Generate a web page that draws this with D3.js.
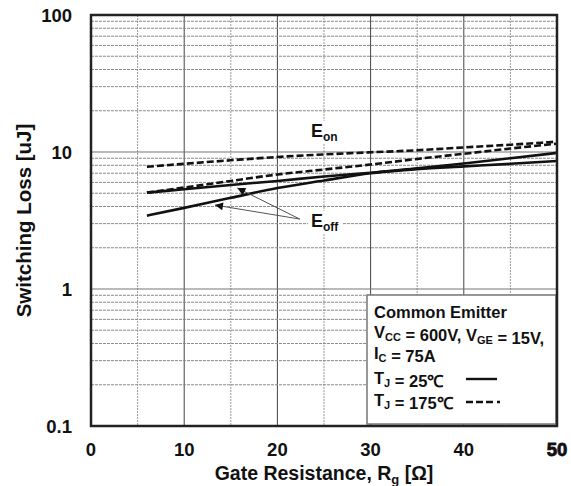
<!DOCTYPE html>
<html>
<head>
<meta charset="utf-8">
<script src="https://cdn.jsdelivr.net/npm/d3@7"></script>
<style>
  body { margin: 0; background: #fff; }
  text { font-family: "Liberation Sans", Arial, sans-serif; font-weight: bold; fill: #111; }
</style>
</head>
<body>
<svg id="chart" width="571" height="486"></svg>
<script>
// Gate resistance samples [Ω]
const rg = [6, 10, 15, 20, 25, 30, 35, 40, 45, 50];
// Switching loss [uJ], TJ = 175 °C (dashed)
const hotUpper = [7.8, 8.2, 8.7, 9.2, 9.6, 9.95, 10.3, 10.8, 11.3, 11.9];
const hotLower = [5.05, 5.5, 6.15, 6.85, 7.45, 8.1, 8.9, 9.7, 10.6, 11.5];
// Switching loss [uJ], TJ = 25 °C (solid)
const coldUpper = [5.05, 5.35, 5.75, 6.15, 6.62, 7.05, 7.5, 7.85, 8.2, 8.6];
const coldLower = [3.43, 3.91, 4.63, 5.46, 6.2, 7.0, 7.6, 8.25, 9.0, 9.85];

const xTicks = [0, 10, 20, 30, 40, 50];
const yTicks = [0.1, 1, 10, 100];
const yTickLabels = ["0.1", "1", "10", "100"];

// Annotation anchors in data units [Rg, loss]
const eonLabelAt = [23.6, 12.9];
const eoffLabelAt = [23.6, 2.84];
const eoffArrowFrom = [22.4, 3.24];
const eoffArrowTips = [[15.7, 5.46], [13.3, 4.1]];

const svg = d3.select("#chart");
const m = { left: 91, top: 15, right: 14, bottom: 60 };
const W = 571 - m.left - m.right;
const H = 486 - m.top - m.bottom;

const x = d3.scaleLinear().domain([0, 50]).range([m.left, m.left + W]);
const y = d3.scaleLog().domain([0.1, 100]).range([m.top + H, m.top]);

const defs = svg.append("defs");
defs.append("marker")
  .attr("id", "arrowHead")
  .attr("viewBox", "0 0 10 10")
  .attr("refX", 10).attr("refY", 5)
  .attr("markerWidth", 12).attr("markerHeight", 8)
  .attr("markerUnits", "userSpaceOnUse")
  .attr("orient", "auto")
  .append("path").attr("d", "M0,0 L10,5 L0,10 Z").attr("fill", "#111");

// Grid
const grid = svg.append("g");
const vLines = d3.range(5, 50, 5);
grid.selectAll("line.v").data(vLines).join("line")
  .attr("x1", d => x(d)).attr("x2", d => x(d))
  .attr("y1", m.top).attr("y2", m.top + H)
  .attr("stroke", d => d % 10 === 0 ? "#444" : "#999")
  .attr("stroke-width", 1)
  .attr("stroke-dasharray", d => d % 10 === 0 ? null : "2,1");

const hMinor = [];
[0.1, 1, 10].forEach(dec => d3.range(2, 10).forEach(k => hMinor.push(dec * k)));
grid.selectAll("line.h").data(hMinor).join("line")
  .attr("x1", m.left).attr("x2", m.left + W)
  .attr("y1", d => y(d)).attr("y2", d => y(d))
  .attr("stroke", "#8a8a8a").attr("stroke-width", 1)
  .attr("stroke-dasharray", "3,1");
grid.selectAll("line.d").data([1, 10]).join("line")
  .attr("x1", m.left).attr("x2", m.left + W)
  .attr("y1", d => y(d)).attr("y2", d => y(d))
  .attr("stroke", "#777").attr("stroke-width", 1.2);

// Curves
const line = d3.line().x(d => x(d[0])).y(d => y(d[1])).curve(d3.curveMonotoneX);
const series = [
  { vals: hotUpper, dash: "7,3" },
  { vals: hotLower, dash: "7,3" },
  { vals: coldUpper, dash: null },
  { vals: coldLower, dash: null }
];
svg.append("g").selectAll("path").data(series).join("path")
  .attr("d", s => line(rg.map((r, i) => [r, s.vals[i]])))
  .attr("fill", "none").attr("stroke", "#111").attr("stroke-width", 2.6)
  .attr("stroke-dasharray", s => s.dash);

// Eoff arrows
svg.append("g").selectAll("line").data(eoffArrowTips).join("line")
  .attr("x1", x(eoffArrowFrom[0])).attr("y1", y(eoffArrowFrom[1]))
  .attr("x2", d => x(d[0])).attr("y2", d => y(d[1]))
  .attr("stroke", "#555").attr("stroke-width", 1)
  .attr("marker-end", "url(#arrowHead)");

// Curve labels with white backing
function curveLabel(at, main, sub) {
  const g = svg.append("g");
  const t = g.append("text").attr("x", x(at[0])).attr("y", y(at[1])).attr("font-size", 18);
  t.append("tspan").text(main);
  t.append("tspan").attr("font-size", 12).attr("dy", 4).text(sub);
  const b = t.node().getBBox();
  g.insert("rect", "text").attr("x", b.x - 3).attr("y", b.y).attr("width", b.width + 6).attr("height", b.height)
    .attr("fill", "#fff");
}
curveLabel(eonLabelAt, "E", "on");
curveLabel(eoffLabelAt, "E", "off");

// Legend box
const lg = svg.append("g");
lg.append("rect").attr("x", 367).attr("y", 295).attr("width", 189).attr("height", 129)
  .attr("fill", "#fff").attr("stroke", "#777").attr("stroke-width", 1.5);
function legendText(yy, parts) {
  const t = lg.append("text").attr("x", 374).attr("y", yy).attr("font-size", 16.5);
  parts.forEach(p => {
    if (typeof p === "string") t.append("tspan").text(p);
    else {
      t.append("tspan").attr("font-size", 11).attr("dy", 3).text(p.sub);
      t.append("tspan").attr("dy", -3).text("");
    }
  });
}
legendText(318, ["Common Emitter"]);
legendText(338, ["V", { sub: "CC" }, " = 600V, V", { sub: "GE" }, " = 15V,"]);
legendText(359, ["I", { sub: "C" }, " = 75A"]);
legendText(384, ["T", { sub: "J" }, " = 25℃"]);
legendText(406, ["T", { sub: "J" }, " = 175℃"]);
lg.append("line").attr("x1", 466).attr("x2", 497).attr("y1", 379).attr("y2", 379)
  .attr("stroke", "#111").attr("stroke-width", 2.4);
lg.append("line").attr("x1", 466).attr("x2", 500).attr("y1", 402).attr("y2", 402)
  .attr("stroke", "#111").attr("stroke-width", 2.4).attr("stroke-dasharray", "7,3,7,3,7,4,2,0");

// Frame
svg.append("rect").attr("x", m.left).attr("y", m.top).attr("width", W).attr("height", H)
  .attr("fill", "none").attr("stroke", "#222").attr("stroke-width", 2.5);

// Axis labels
svg.append("g").selectAll("text").data(xTicks).join("text")
  .attr("x", d => x(d)).attr("y", 456).attr("text-anchor", "middle").attr("font-size", 18.5)
  .attr("stroke", d => d === 50 ? "#111" : null).attr("stroke-width", 0.8)
  .text(d => d);
svg.append("g").selectAll("text").data(yTicks).join("text")
  .attr("x", 72).attr("y", d => y(d)).attr("dy", "0.36em").attr("text-anchor", "end").attr("font-size", 18.5)
  .text((d, i) => yTickLabels[i]);

const xt = svg.append("text").attr("x", x(25)).attr("y", 480).attr("text-anchor", "middle").attr("font-size", 19.5);
xt.append("tspan").text("Gate Resistance, R");
xt.append("tspan").attr("font-size", 13).attr("dy", 4).text("g");
xt.append("tspan").attr("dy", -4).text(" [Ω]");

svg.append("text").attr("transform", `translate(31,${m.top + H / 2}) rotate(-90)`)
  .attr("text-anchor", "middle").attr("font-size", 20.5).text("Switching Loss [uJ]");
</script>
</body>
</html>
